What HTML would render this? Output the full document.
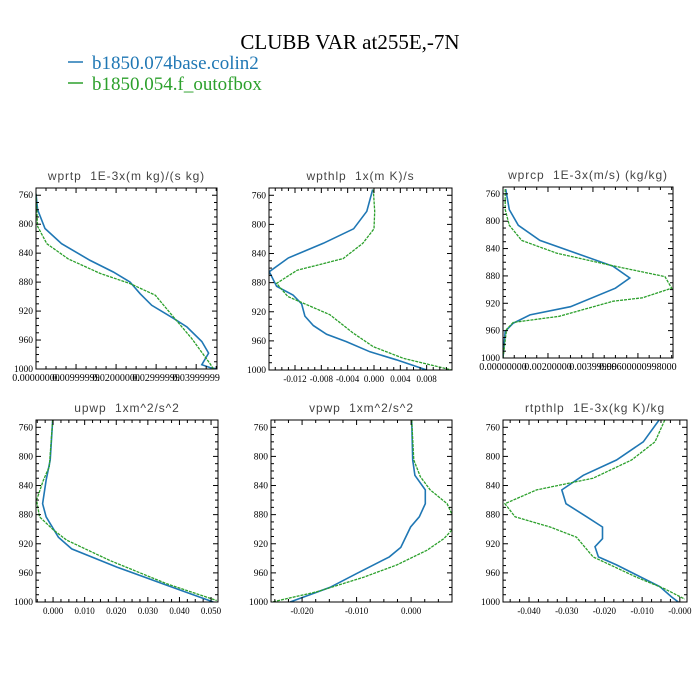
<!DOCTYPE html>
<html><head><meta charset="utf-8"><style>
html,body{margin:0;padding:0;background:#fff;}
svg{display:block;}
.pt{white-space:pre;}
</style></head><body>
<svg id="chart" width="700" height="700" viewBox="0 0 700 700" xmlns="http://www.w3.org/2000/svg">
<rect width="700" height="700" fill="#fff"/>
<text x="350" y="49" text-anchor="middle" font-family="Liberation Serif, serif" font-size="21" fill="#000">CLUBB VAR at255E,-7N</text>
<g>
<line x1="68" y1="62" x2="83" y2="62" stroke="#1f77b4" stroke-width="1.5"/>
<text x="92" y="69" font-family="Liberation Serif, serif" font-size="19" fill="#1f77b4">b1850.074base.colin2</text>
<line x1="68" y1="83" x2="83" y2="83" stroke="#2ca02c" stroke-width="1.5"/>
<text x="92" y="90" font-family="Liberation Serif, serif" font-size="19" fill="#2ca02c">b1850.054.f_outofbox</text>
</g>
</svg>
<script>
// ---- data (pressure levels and values per series) ----
const panelTitles = ["wprtp  1E-3x(m kg)/(s kg)","wpthlp  1x(m K)/s","wprcp  1E-3x(m/s) (kg/kg)","upwp  1xm^2/s^2","vpwp  1xm^2/s^2","rtpthlp  1E-3x(kg K)/kg"];
const yTicks = [760,800,840,880,920,960,1000];

const wprtpBaseP = [758,780,806,827,850,866,880,896,912,930,942,962,978,994,998,1000];
const wprtpBaseV = [0,0.0004,0.00225,0.0064,0.0135,0.0193,0.0235,0.026,0.0289,0.0343,0.0377,0.0414,0.0431,0.0414,0.0435,0.0452];
const wprtpOobP = [758,803,827,848,868,882,898,928,958,993,1000];
const wprtpOobV = [0,0.0004,0.0027,0.0081,0.016,0.0235,0.0298,0.0343,0.0389,0.0435,0.0443];

const wpthlpBaseP = [752,782,806,826,846,865,885,897,909,926,939,951,961,975,986,1000];
const wpthlpBaseV = [-0.0002,-0.0011,-0.0031,-0.0077,-0.013,-0.0159,-0.0148,-0.0123,-0.011,-0.0105,-0.0092,-0.0072,-0.0042,-0.0006,0.0034,0.008];
const wpthlpOobP = [752,782,806,826,847,863,881,899,924,949,968,984,1000];
const wpthlpOobV = [-0.0001,0.0001,0,-0.0017,-0.0047,-0.0117,-0.0148,-0.0131,-0.0067,-0.0032,-0.0001,0.0045,0.0118];

const wprcpBaseP = [753,783,806,828,866,883,898,925,937,949,961,1000];
const wprcpBaseV = [0.00012,0.00028,0.00068,0.00164,0.0049,0.00564,0.005,0.003,0.0012,0.00046,0.0001,0];
const wprcpOobP = [753,783,806,828,847,866,881,898,912,917,939,948,958,1000];
const wprcpOobV = [0.0001,0.0001,0.00028,0.00083,0.0024,0.005,0.0072,0.0075,0.0062,0.0049,0.0025,0.00046,0.00016,0];

const upwpBaseP = [750,805,833,865,883,911,927,952,977,1000];
const upwpBaseV = [-0.0001,-0.0009,-0.0022,-0.0033,-0.0022,0.0017,0.0059,0.0202,0.036,0.0507];
const upwpOobP = [750,814,833,860,883,901,915,943,975,998];
const upwpOobV = [-0.0001,-0.0012,-0.0031,-0.0052,-0.0043,0.0001,0.0043,0.018,0.036,0.0518];

const vpwpBaseP = [750,805,826,846,865,883,897,925,938,961,980,1000];
const vpwpBaseV = [0.0001,0.0003,0.0007,0.0026,0.0026,0.0015,-0.0001,-0.0019,-0.004,-0.01,-0.0149,-0.0222];
const vpwpOobP = [750,805,828,846,865,883,901,913,929,949,966,986,1000];
const vpwpOobV = [0.0001,0.0005,0.0017,0.0035,0.0066,0.0077,0.0075,0.006,0.0029,-0.0026,-0.0087,-0.0173,-0.0255];

const rtpBaseP = [750,780,805,826,846,865,883,897,913,924,938,949,979,993,1000];
const rtpBaseV = [-0.0055,-0.0097,-0.0168,-0.0256,-0.0313,-0.0302,-0.0247,-0.0205,-0.0205,-0.0225,-0.0216,-0.0168,-0.0053,-0.0022,-0.0004];
const rtpOobP = [750,780,805,830,846,865,883,897,911,938,966,982,996];
const rtpOobV = [-0.004,-0.0066,-0.0128,-0.023,-0.038,-0.0464,-0.0437,-0.0344,-0.0274,-0.023,-0.0115,-0.004,0.0013];

const xTicks1 = [0,0.01,0.02,0.03,0.04];
const xLabels1 = ["0.00000000","0.00999999","0.02000000","0.02999999","0.03999999"];
const xTicks2 = [-0.012,-0.008,-0.004,0,0.004,0.008];
const xLabels2 = ["-0.012","-0.008","-0.004","0.000","0.004","0.008"];
const xTicks3 = [0,0.002,0.004,0.006];
const xLabels3 = ["0.00000000","0.00200000","0.00399999","0.00600000998000"];
const xTicks4 = [0,0.01,0.02,0.03,0.04,0.05];
const xLabels4 = ["0.000","0.010","0.020","0.030","0.040","0.050"];
const xTicks5 = [-0.02,-0.01,0];
const xLabels5 = ["-0.020","-0.010","0.000"];
const xTicks6 = [-0.04,-0.03,-0.02,-0.01,0];
const xLabels6 = ["-0.040","-0.030","-0.020","-0.010","-0.000"];

const NS = "http://www.w3.org/2000/svg";
const svg = document.getElementById("chart");
function mk(tag, attrs, parent){const e=document.createElementNS(NS,tag);for(const k in attrs)e.setAttribute(k,attrs[k]);(parent||svg).appendChild(e);return e;}

const panels = [
 {name:"wprtp", box:[36,188,217,369], xmin:0, xmax:0.0452, xt:xTicks1, xl:xLabels1, lf:10, s:[[wprtpBaseP,wprtpBaseV],[wprtpOobP,wprtpOobV]]},
 {name:"wpthlp", box:[269,188,452,370], xmin:-0.01595, xmax:0.01185, xt:xTicks2, xl:xLabels2, lf:9, s:[[wpthlpBaseP,wpthlpBaseV],[wpthlpOobP,wpthlpOobV]]},
 {name:"wprcp", box:[503,187,673,358], xmin:0, xmax:0.00756, xt:xTicks3, xl:xLabels3, lf:10, s:[[wprcpBaseP,wprcpBaseV],[wprcpOobP,wprcpOobV]]},
 {name:"upwp", box:[36,420,218,602], xmin:-0.0054, xmax:0.0522, xt:xTicks4, xl:xLabels4, lf:9, s:[[upwpBaseP,upwpBaseV],[upwpOobP,upwpOobV]]},
 {name:"vpwp", box:[271,420,452,602], xmin:-0.0257, xmax:0.0075, xt:xTicks5, xl:xLabels5, lf:9, s:[[vpwpBaseP,vpwpBaseV],[vpwpOobP,vpwpOobV]]},
 {name:"rtpthlp", box:[503,420,687,602], xmin:-0.0469, xmax:0.0019, xt:xTicks6, xl:xLabels6, lf:9, s:[[rtpBaseP,rtpBaseV],[rtpOobP,rtpOobV]]}
];
const colors = ["#1f77b4","#2ca02c"];

panels.forEach((P,i)=>{
  const [x0,y0,x1,y1]=P.box;
  const yScale = p => y1 - (1000-p)/250*(y1-y0);
  const xScale = v => x0 + (v-P.xmin)/(P.xmax-P.xmin)*(x1-x0);
  const g = mk("g",{});
  
  
  const t = mk("text",{x:(x0+x1)/2, y:y0-8, "text-anchor":"middle","font-family":"Liberation Sans, sans-serif","font-size":"12","letter-spacing":"0.9",fill:"#444","class":"pt"},g);
  t.textContent = panelTitles[i];
  
  
  const cp = mk("clipPath",{id:"clip"+i},g);
  mk("rect",{x:x0,y:y0,width:x1-x0,height:y1-y0},cp);
  P.s.forEach((sr,j)=>{
    const pts = sr[0].map((p,k)=>xScale(sr[1][k]).toFixed(1)+","+yScale(p).toFixed(1)).join(" ");
    const pl = mk("polyline",{points:pts,fill:"none",stroke:colors[j],"stroke-width":j?1.3:1.6,"clip-path":"url(#clip"+i+")"},g);
    if(j) pl.setAttribute("stroke-dasharray","3,1");
    
    
  });
  for(let p=760;p<=1000;p+=10){
    const y=yScale(p); const major = p%40===0;
    const L = major?5:3;
    mk("line",{x1:x0,y1:y,x2:x0+L,y2:y,stroke:"#000","stroke-width":1},g);
    mk("line",{x1:x1,y1:y,x2:x1-L,y2:y,stroke:"#000","stroke-width":1},g);
  }
  yTicks.forEach(p=>{
    const tl = mk("text",{x:x0-3,y:yScale(p)+3,"text-anchor":"end","font-family":"Liberation Serif, serif","font-size":"9.5",fill:"#000"},g);
    tl.textContent = p;
    
    
  });
  const step = P.xt[1]-P.xt[0];
  const minor = step/4;
  for(let v=P.xt[0]-step; v<=P.xmax+1e-12; v+=minor){
    if(v<P.xmin-1e-12) continue;
    const x=xScale(v);
    const isMajor = Math.abs(Math.round((v-P.xt[0])/step)*step-(v-P.xt[0]))<1e-9;
    const L=isMajor?5:3;
    mk("line",{x1:x,y1:y1,x2:x,y2:y1-L,stroke:"#000","stroke-width":1},g);
    mk("line",{x1:x,y1:y0,x2:x,y2:y0+L,stroke:"#000","stroke-width":1},g);
  }
  P.xt.forEach((v,k)=>{
    const tl = mk("text",{x:xScale(v),y:y1+12,"text-anchor":"middle","font-family":"Liberation Serif, serif","font-size":P.lf,fill:"#000"},g);
    tl.textContent = P.xl[k];
    
    
  });
  const fr = mk("rect",{x:x0,y:y0,width:x1-x0,height:y1-y0,fill:"none",stroke:"#000","stroke-width":1},g);
  
  
});
</script>
</body></html>
